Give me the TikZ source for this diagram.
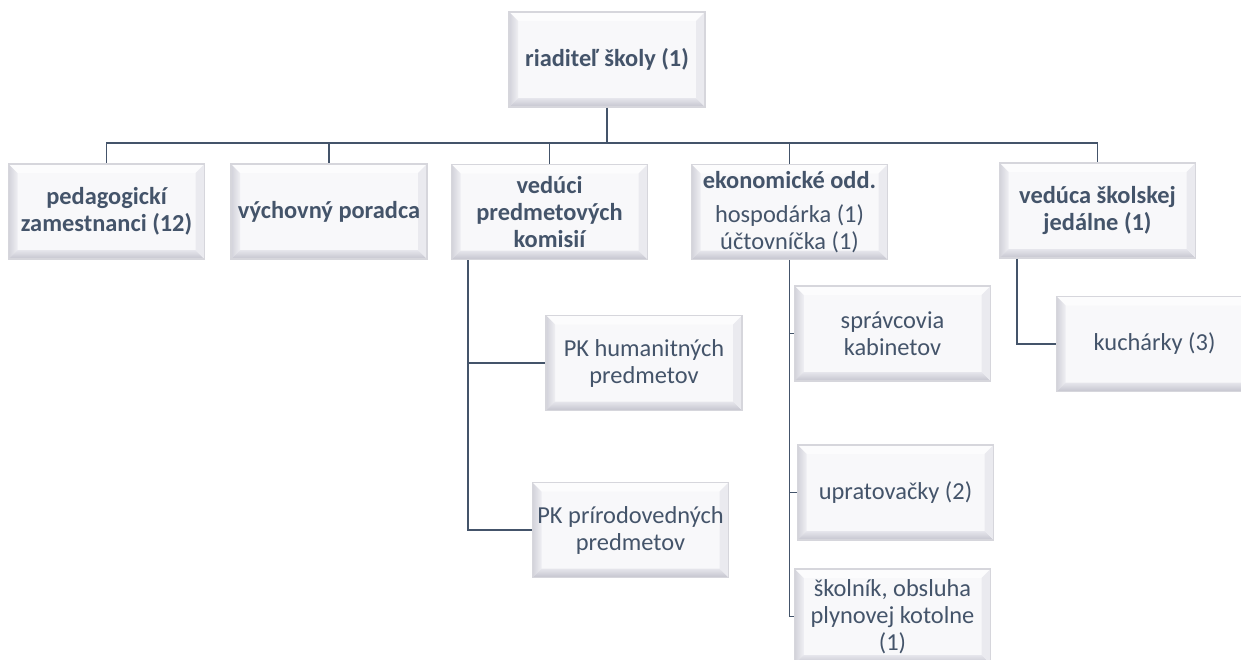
\documentclass[tikz,border=0pt]{standalone}
\usepackage{fontspec}
\setmainfont{Carlito}
\definecolor{txt}{HTML}{44546A}
\definecolor{lnc}{HTML}{44546A}
\definecolor{boxedge}{HTML}{D6D6DC}
\definecolor{boxfill}{HTML}{F8F8FA}
\definecolor{bevtop}{HTML}{FCFCFD}
\definecolor{bevleftA}{HTML}{D2D2DA}
\definecolor{bevleftB}{HTML}{EFEFF3}
\definecolor{bevbotA}{HTML}{E6E6EC}
\definecolor{bevbotB}{HTML}{C4C4CE}
\definecolor{bevright}{HTML}{EAEAEF}
\tikzset{
  bbox/.style={draw=boxedge, line width=1.2pt, fill=boxfill,
    minimum width=196pt, minimum height=95pt, inner sep=0pt,
    align=center, text=txt, font=\fontsize{24.4}{27}\selectfont,
    path picture={
      \coordinate (NW) at (path picture bounding box.north west);
      \coordinate (NE) at (path picture bounding box.north east);
      \coordinate (SW) at (path picture bounding box.south west);
      \coordinate (SE) at (path picture bounding box.south east);
      \fill[bevtop] (NW) -- (NE) -- ([shift={(-9pt,-9pt)}]NE) -- ([shift={(9pt,-9pt)}]NW) -- cycle;
      \shade[left color=bevleftA, right color=bevleftB] (NW) -- ([shift={(9pt,-9pt)}]NW) -- ([shift={(9pt,9pt)}]SW) -- (SW) -- cycle;
      \shade[top color=bevbotA, bottom color=bevbotB] (SW) -- ([shift={(9pt,9pt)}]SW) -- ([shift={(-9pt,9pt)}]SE) -- (SE) -- cycle;
      \fill[bevright] (SE) -- ([shift={(-9pt,9pt)}]SE) -- ([shift={(-9pt,-9pt)}]NE) -- (NE) -- cycle;
    }},
  conn/.style={draw=lnc, line width=1.8pt},
}
\begin{document}
\begin{tikzpicture}[x=1pt,y=-1pt]
\useasboundingbox (0,0) rectangle (1241,659);
\clip (0,0) rectangle (1241,659);
\fill[white] (0,0) rectangle (1241,659);

\coordinate (bus) at (0,143);
\coordinate (vx) at (468,0);
\coordinate (jx) at (1017,0);

\node[bbox] (r) at (607,59.5) {\bfseries riaditeľ školy (1)};
\node[bbox] (p) at (106.5,211.5) {\bfseries pedagogickí\\\bfseries zamestnanci (12)};
\node[bbox] (vp) at (329,211.5) {\bfseries výchovný poradca};
\node[bbox] (v) at (549.5,212) {\bfseries vedúci\\\bfseries predmetových\\\bfseries komisií};
\node[bbox] (e) at (789.5,212) {\bfseries ekonomické odd.\\[7pt] hospodárka (1)\\ účtovníčka (1)};
\node[bbox] (j) at (1097.5,210.5) {\bfseries vedúca školskej\\\bfseries jedálne (1)};
\node[bbox] (pkh) at (644,363) {PK humanitných\\ predmetov};
\node[bbox] (pkp) at (630.5,530) {PK prírodovedných\\ predmetov};
\node[bbox] (spr) at (892.5,333.5) {správcovia\\ kabinetov};
\node[bbox] (upr) at (895.5,492.5) {upratovačky (2)};
\node[bbox] (skol) at (892.5,616.5) {školník, obsluha\\ plynovej kotolne\\ (1)};
\node[bbox] (kuch) at (1154.5,344) {kuchárky (3)};

\draw[conn] (r.south) -- (r.south |- bus) -| (p.north);
\draw[conn] (r.south |- bus) -| (vp.north);
\draw[conn] (r.south |- bus) -| (v.north);
\draw[conn] (r.south |- bus) -| (e.north);
\draw[conn] (r.south |- bus) -| (j.north);

\draw[conn] (v.south -| vx) |- (pkh.west);
\draw[conn] (v.south -| vx) |- (pkp.west);

\draw[conn] (e.south) |- (spr.west);
\draw[conn] (e.south) |- (upr.west);
\draw[conn] (e.south) |- (skol.west);

\draw[conn] (j.south -| jx) |- (kuch.west);
\end{tikzpicture}
\end{document}
